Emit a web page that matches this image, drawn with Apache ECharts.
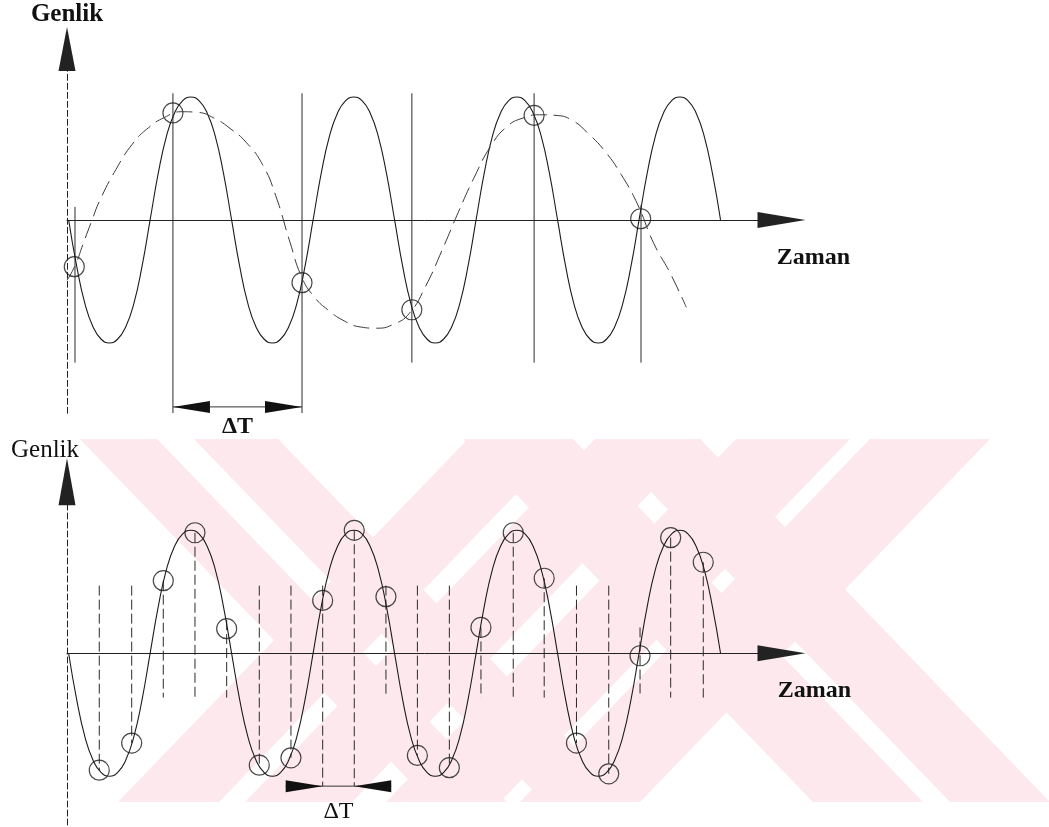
<!DOCTYPE html>
<html><head><meta charset="utf-8">
<script src="https://cdn.jsdelivr.net/npm/echarts/dist/echarts.min.js"></script>
<style>html,body{margin:0;padding:0;background:#fff}#c{width:1049px;height:827px}</style>
</head><body><div id="c"></div>
<script>
// ---------- data (time units / amplitude units) ----------
const axisTitles = ['Genlik', 'Zaman'];
const deltaLabel = 'ΔT';

// original signal (same wave in both panels)
const signalT = [0.05,0.3,0.55,0.8,1.05,1.3,1.55,1.8,2.05,2.3,2.55,2.8,3.05,3.3,3.55,3.8,4.05,4.3,4.55,4.8,
  5.05,5.3,5.55,5.8,6.05,6.3,6.55,6.8,7.05,7.3,7.55,7.8,8.05,8.3,8.55,8.8,9.05,9.3,9.55,9.8,
  10.05,10.3,10.55,10.8,11.05,11.3,11.55,11.8,12.05,12.3,12.55,12.8,13.05,13.3,13.55,13.8,14.05,14.3,14.55,14.8,
  15.05,15.3,15.55,15.8,16.05,16.3,16.55,16.8,17.05,17.3,17.55,17.8,18.05,18.3,18.55,18.8,19.05,19.3,19.55,19.8,20.05];
const signalV = [0,-0.38,-0.68,-0.87,-0.97,-1,-0.97,-0.87,-0.68,-0.38,0,0.38,0.68,0.87,0.97,1,0.97,0.87,0.68,0.38,
  0,-0.38,-0.68,-0.87,-0.97,-1,-0.97,-0.87,-0.68,-0.38,0,0.38,0.68,0.87,0.97,1,0.97,0.87,0.68,0.38,
  0,-0.38,-0.68,-0.87,-0.97,-1,-0.97,-0.87,-0.68,-0.38,0,0.38,0.68,0.87,0.97,1,0.97,0.87,0.68,0.38,
  0,-0.38,-0.68,-0.87,-0.97,-1,-0.97,-0.87,-0.68,-0.38,0,0.38,0.68,0.87,0.97,1,0.97,0.87,0.68,0.38,0];

// upper panel: aliased (dashed) signal
const aliasT = [0,0.25,0.5,0.77,1.0,1.5,2.0,2.5,3.0,3.5,4.0,4.5,5.0,5.5,6.0,6.4,6.84,7.21,7.6,8.0,8.5,9.0,9.5,10.0,10.5,11.0,11.5,12.0,12.5,13.0,13.5,14.0,14.5,15.0,15.5,16.0,16.5,17.0,17.5,18.0,18.5,19.0];
const aliasV = [-0.49,-0.37,-0.19,0,0.155,0.41,0.615,0.75,0.835,0.88,0.875,0.83,0.745,0.63,0.45,0.2,-0.18,-0.47,-0.63,-0.73,-0.82,-0.87,-0.88,-0.85,-0.76,-0.54,-0.25,0.06,0.35,0.6,0.76,0.83,0.855,0.85,0.81,0.7,0.56,0.37,0.13,-0.19,-0.43,-0.71];
// upper panel: samples
const topSampleT = [0.224,3.25,7.21,10.58,14.33,17.6];
const topSampleV = [-0.38,0.87,-0.51,-0.73,0.85,0.01];
const topLineT = [0.245,3.25,7.21,10.58,14.33,17.61];
const topLineTop = [0.106,1.03,1.03,1.03,1.03,0.12];
const topLineBottom = [-1.16,-1.57,-1.57,-1.16,-1.16,-1.16];
const topDelta = [3.25, 7.21, -1.52];

// lower panel: samples
const botSampleT = [0.99,1.985,2.954,3.926,4.899,5.899,6.871,7.844,8.813,9.785,10.75,11.73,12.7,13.69,14.64,15.63,16.62,17.58,18.52,19.52];
const botSampleV = [-0.95,-0.73,0.59,0.98,0.2,-0.91,-0.85,0.43,1.0,0.46,-0.83,-0.93,0.21,0.98,0.61,-0.73,-0.98,-0.02,0.94,0.74];
const botLineTop = [0.55,0.55,0.59,0.98,0.27,0.55,0.55,0.55,1.0,0.55,0.55,0.55,0.21,0.98,0.61,0.55,0.55,0.21,0.94,0.74];
const botLineBottom = [-0.95,-0.73,-0.36,-0.36,-0.36,-0.91,-0.85,-1.08,-1.08,-0.36,-0.83,-0.93,-0.36,-0.36,-0.36,-0.73,-0.98,-0.36,-0.36,-0.36];
const botDelta = [7.844, 8.813, -1.08];

// ---------- helpers ----------
const zip = (a, b) => a.map((v, i) => [v, b[i]]);
const zip3 = (a, b, c) => a.map((v, i) => [v, b[i], c[i]]);
const SERIF = '"Liberation Serif","Times New Roman",serif';
const INK = '#1c1c1c';

function vlineRender(dash) {
  return function (params, api) {
    const a = api.coord([api.value(0), api.value(1)]);
    const b = api.coord([api.value(0), api.value(2)]);
    return { type: 'line', shape: { x1: a[0], y1: a[1], x2: b[0], y2: b[1] },
      style: { stroke: '#2a2a2a', lineWidth: 1, lineDash: dash } };
  };
}
function deltaRender(inward, textDy, font) {
  return function (params, api) {
    const p1 = api.coord([api.value(0), api.value(2)]);
    const p2 = api.coord([api.value(1), api.value(2)]);
    const y = p1[1], L = 37, H = 6, x1 = p1[0], x2 = p2[0];
    const kids = [];
    if (!inward) {
      kids.push({ type: 'line', shape: { x1: x1, y1: y, x2: x2, y2: y }, style: { stroke: '#333', lineWidth: 1 } });
      kids.push({ type: 'polygon', shape: { points: [[x1, y], [x1 + L, y - H], [x1 + L, y + H]] }, style: { fill: '#111' } });
      kids.push({ type: 'polygon', shape: { points: [[x2, y], [x2 - L, y - H], [x2 - L, y + H]] }, style: { fill: '#111' } });
    } else {
      kids.push({ type: 'line', shape: { x1: x1 - L, y1: y, x2: x2 + L, y2: y }, style: { stroke: '#333', lineWidth: 1 } });
      kids.push({ type: 'polygon', shape: { points: [[x1, y], [x1 - L, y - H], [x1 - L, y + H]] }, style: { fill: '#111' } });
      kids.push({ type: 'polygon', shape: { points: [[x2, y], [x2 + L, y - H], [x2 + L, y + H]] }, style: { fill: '#111' } });
    }
    kids.push({ type: 'text', x: (x1 + x2) / 2, y: y + textDy,
      style: { text: deltaLabel, font: font, fill: '#111', align: 'center', verticalAlign: 'middle',
               textAlign: 'center', textVerticalAlign: 'middle' } });
    return { type: 'group', children: kids };
  };
}

function xAxisOf(g) {
  return { gridIndex: g, type: 'value', min: 0, max: 21.92,
    axisLine: { onZero: true, lineStyle: { color: '#222', width: 1 }, symbol: ['none', 'triangle'], symbolSize: [16, 48] },
    axisTick: { show: false }, axisLabel: { show: false }, splitLine: { show: false } };
}
function yAxisOf(g, min, max, arrowLen) {
  return { gridIndex: g, type: 'value', min: min, max: max,
    axisLine: { show: true, onZero: false, lineStyle: { color: '#222', width: 1, type: [6, 3] }, symbol: ['none', 'triangle'], symbolSize: [17, arrowLen] },
    axisTick: { show: false }, axisLabel: { show: false }, splitLine: { show: false } };
}

// watermark (decorative background)
const PINK = '#fde8ed';
const Y0 = 439, Y1 = 802;
const wm = [
  [[80,Y0],[157,Y0],[507,Y1],[430,Y1]],
  [[194,Y0],[278,Y0],[628,Y1],[544,Y1]],
  [[463,Y0],[573,Y0],[923,Y1],[813,Y1]],
  [[600,Y0],[700,Y0],[1050,Y1],[950,Y1]],
  [[468,Y0],[569,Y0],[219,Y1],[118,Y1]],
  [[595,Y0],[702,Y0],[352,Y1],[245,Y1]],
  [[736,Y0],[850,Y0],[500,Y1],[386,Y1]],
  [[870,Y0],[990,Y0],[640,Y1],[520,Y1]]
].map(p => ({ type: 'polygon', z: -10, silent: true, shape: { points: p }, style: { fill: PINK } }));

function txt(x, y, s, font) {
  return { type: 'text', x: x, y: y, z: 10, silent: true,
    style: { text: s, font: font, fill: '#111', align: 'center', verticalAlign: 'middle', textAlign: 'center', textVerticalAlign: 'middle' } };
}

const chart = echarts.init(document.getElementById('c'));
chart.setOption({
  animation: false,
  backgroundColor: '#fff',
  grid: [
    { left: 67, width: 714.5, top: 49, height: 364.3 },
    { left: 67, width: 714.5, top: 481.7, height: 343.3 }
  ],
  xAxis: [xAxisOf(0), xAxisOf(1)],
  yAxis: [yAxisOf(0, -1.572, 1.39, 44), yAxisOf(1, -1.396, 1.395, 47)],
  graphic: wm.concat([
    txt(67, 14.5, axisTitles[0], 'bold 25px ' + SERIF),
    txt(45, 450, axisTitles[0], '25px ' + SERIF),
    txt(813.5, 257.5, axisTitles[1], 'bold 24px ' + SERIF),
    txt(814.5, 691, axisTitles[1], 'bold 24px ' + SERIF)
  ]),
  series: [
    { type: 'line', xAxisIndex: 0, yAxisIndex: 0, data: zip(signalT, signalV), smooth: 0.5, showSymbol: false, silent: true,
      lineStyle: { color: INK, width: 1.1 } },
    { type: 'line', xAxisIndex: 0, yAxisIndex: 0, data: zip(aliasT, aliasV), smooth: 0.5, showSymbol: false, silent: true,
      lineStyle: { color: '#3a3a3a', width: 1, type: [16, 7] } },
    { type: 'custom', xAxisIndex: 0, yAxisIndex: 0, data: zip3(topLineT, topLineTop, topLineBottom), encode: { x: 0, y: [1, 2] },
      renderItem: vlineRender(null), silent: true },
    { type: 'scatter', xAxisIndex: 0, yAxisIndex: 0, data: zip(topSampleT, topSampleV), symbol: 'circle', symbolSize: 20, silent: true,
      itemStyle: { color: 'rgba(0,0,0,0)', borderColor: INK, borderWidth: 1.2 } },
    { type: 'custom', xAxisIndex: 0, yAxisIndex: 0, data: [topDelta], encode: { x: [0, 1], y: 2 },
      renderItem: deltaRender(false, 20, 'bold 24px ' + SERIF), silent: true },

    { type: 'line', xAxisIndex: 1, yAxisIndex: 1, data: zip(signalT, signalV), smooth: 0.5, showSymbol: false, silent: true,
      lineStyle: { color: INK, width: 1.1 } },
    { type: 'custom', xAxisIndex: 1, yAxisIndex: 1, data: zip3(botSampleT, botLineTop, botLineBottom), encode: { x: 0, y: [1, 2] },
      renderItem: vlineRender([10, 4]), silent: true },
    { type: 'scatter', xAxisIndex: 1, yAxisIndex: 1, data: zip(botSampleT, botSampleV), symbol: 'circle', symbolSize: 20, silent: true,
      itemStyle: { color: 'rgba(0,0,0,0)', borderColor: INK, borderWidth: 1.2 } },
    { type: 'custom', xAxisIndex: 1, yAxisIndex: 1, data: [botDelta], encode: { x: [0, 1], y: 2 },
      renderItem: deltaRender(true, 26, '24px ' + SERIF), silent: true }
  ]
});
</script>
</body></html>
